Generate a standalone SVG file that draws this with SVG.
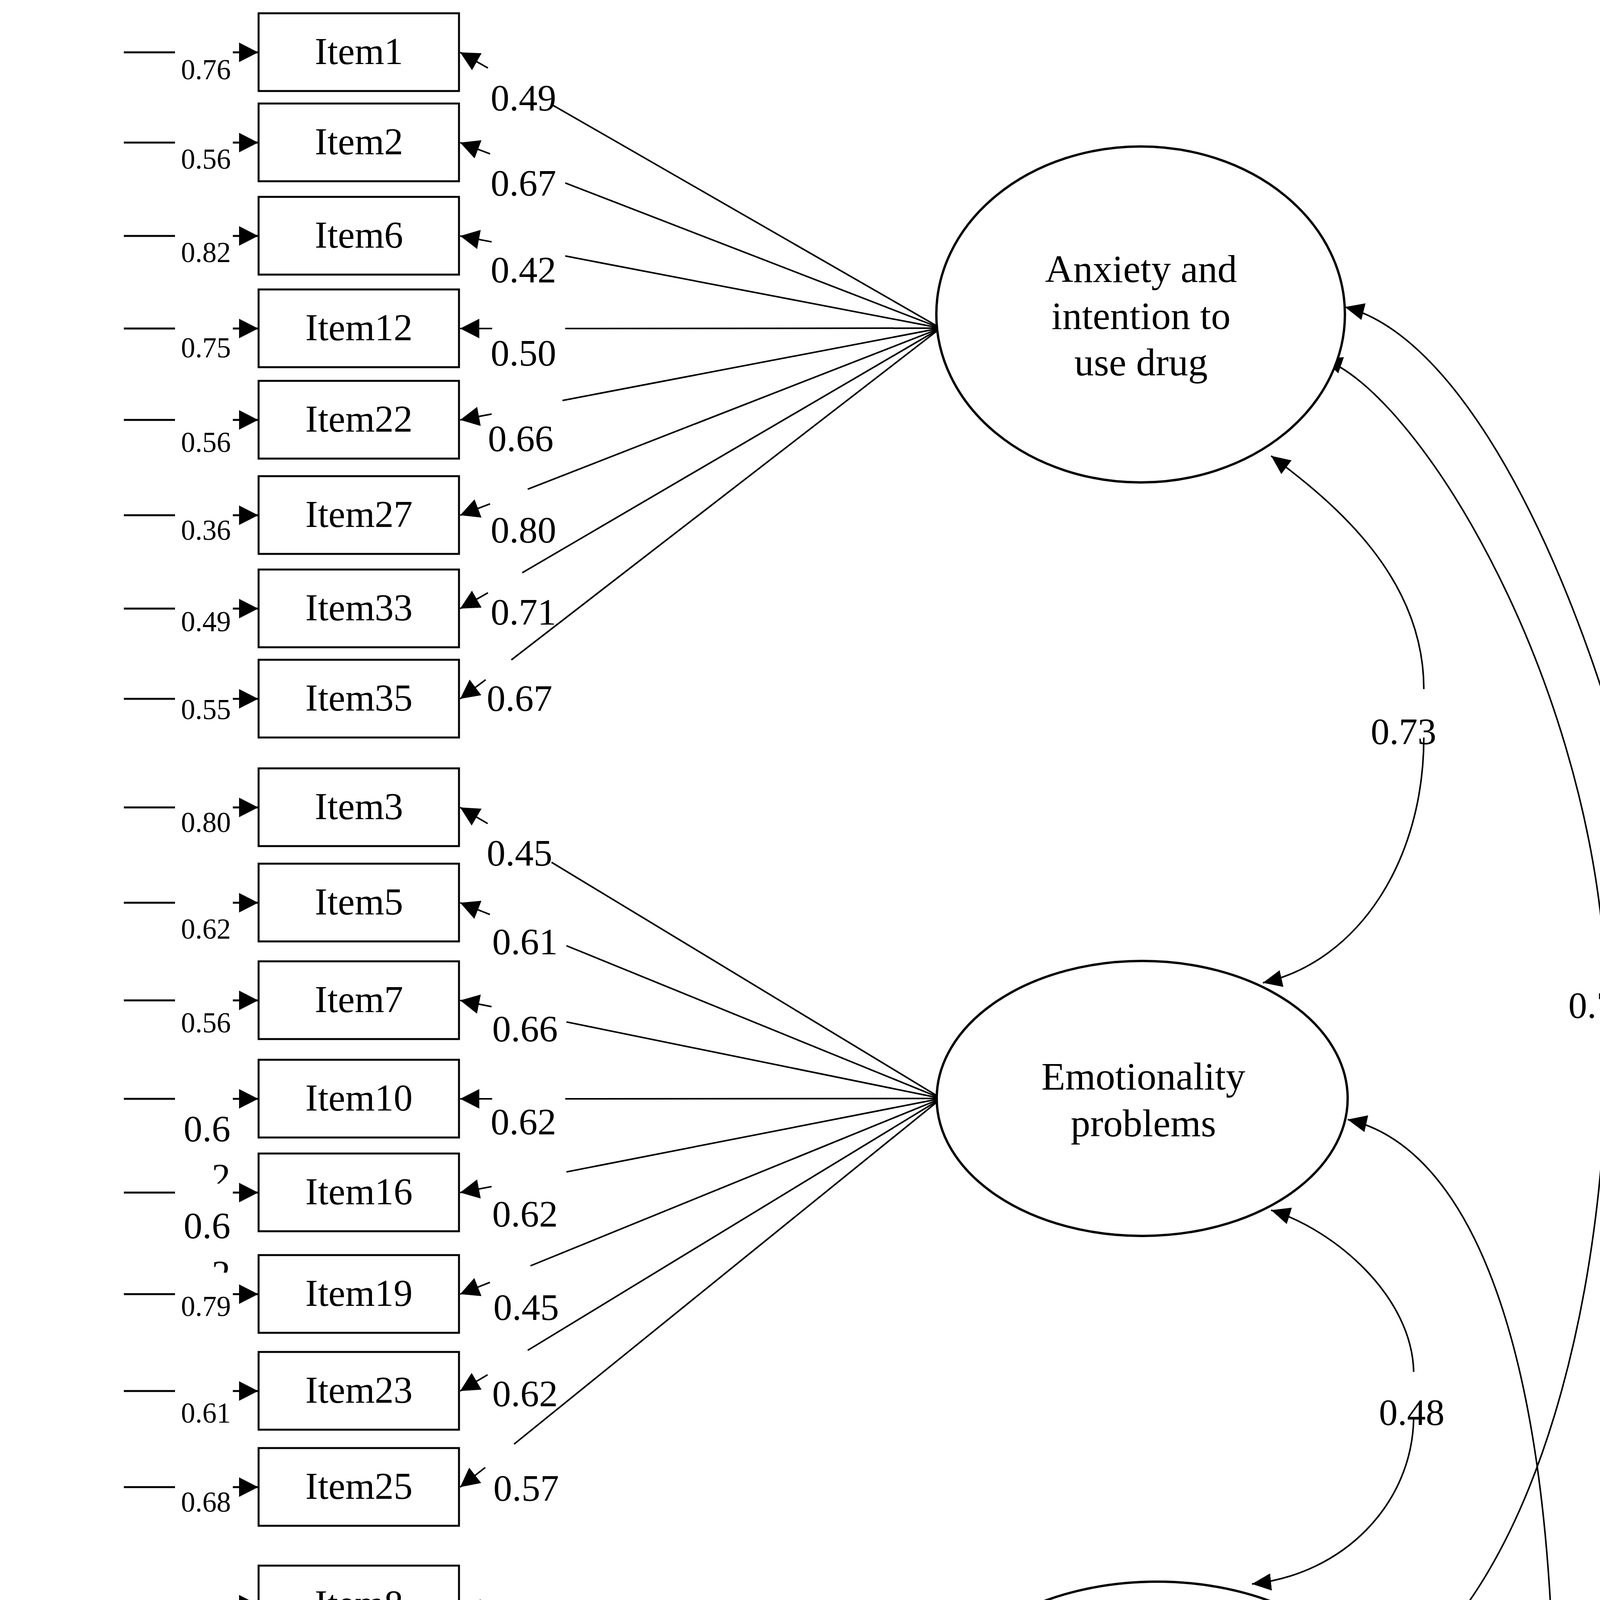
<svg xmlns="http://www.w3.org/2000/svg" width="4501" height="6987" viewBox="0 0 4501 6987">
<style>
.bg{fill:#fff}
.box{fill:#fff;stroke:#000;stroke-width:5}
.lat{fill:#fff;stroke:#000;stroke-width:6}
.ln{stroke:#000;stroke-width:4;fill:none}
.el{stroke:#000;stroke-width:5;fill:none}
.cv{stroke:#000;stroke-width:4;fill:none}
text{font-family:"Liberation Serif","Times New Roman",serif;fill:#000}
.it{font-size:97px;text-anchor:middle}
.lt{font-size:100px;text-anchor:middle}
.lb{font-size:96px}
.ev{font-size:73px;text-anchor:end}
.cap{font-size:99px}
</style>
<defs>
<marker id="ah" markerUnits="userSpaceOnUse" markerWidth="50" markerHeight="50" refX="49" refY="25" orient="auto-start-reverse" viewBox="0 0 50 50">
<path d="M0,0 L49,25 L0,50 z" fill="#000"/>
</marker>
<marker id="ac" markerUnits="userSpaceOnUse" markerWidth="50" markerHeight="44" refX="49" refY="22" orient="auto-start-reverse" viewBox="0 0 50 44">
<path d="M0,0 L49,22 L0,44 z" fill="#000"/>
</marker>
<clipPath id="c10"><rect x="500" y="2940" width="150" height="90"/></clipPath>
<clipPath id="c16"><rect x="500" y="3190" width="150" height="68"/></clipPath>
</defs>
<rect class="bg" x="0" y="0" width="4501" height="6987"/>
<g id="connectors">
<g id="errors">
<path class="el" d="M317,134H448 M596,134H661" marker-end="url(#ah)"/>
<path class="el" d="M317,365H448 M596,365H661" marker-end="url(#ah)"/>
<path class="el" d="M317,604H448 M596,604H661" marker-end="url(#ah)"/>
<path class="el" d="M317,841H448 M596,841H661" marker-end="url(#ah)"/>
<path class="el" d="M317,1075H448 M596,1075H661" marker-end="url(#ah)"/>
<path class="el" d="M317,1319H448 M596,1319H661" marker-end="url(#ah)"/>
<path class="el" d="M317,1558H448 M596,1558H661" marker-end="url(#ah)"/>
<path class="el" d="M317,1789H448 M596,1789H661" marker-end="url(#ah)"/>
<path class="el" d="M317,2067H448 M596,2067H661" marker-end="url(#ah)"/>
<path class="el" d="M317,2311H448 M596,2311H661" marker-end="url(#ah)"/>
<path class="el" d="M317,2561H448 M596,2561H661" marker-end="url(#ah)"/>
<path class="el" d="M317,2813H448 M596,2813H661" marker-end="url(#ah)"/>
<path class="el" d="M317,3053H448 M596,3053H661" marker-end="url(#ah)"/>
<path class="el" d="M317,3313H448 M596,3313H661" marker-end="url(#ah)"/>
<path class="el" d="M317,3561H448 M596,3561H661" marker-end="url(#ah)"/>
<path class="el" d="M317,3807H448 M596,3807H661" marker-end="url(#ah)"/>
<path class="el" d="M317,4108H448 M596,4108H661" marker-end="url(#ah)"/>
<path class="el" d="M317,4353H448 M596,4353H661" marker-end="url(#ah)"/>
<path class="el" d="M317,4602H448 M596,4602H661" marker-end="url(#ah)"/>
<path class="el" d="M317,4854H448 M596,4854H661" marker-end="url(#ah)"/>
<path class="el" d="M317,5138H448 M596,5138H661" marker-end="url(#ah)"/>
<path class="el" d="M317,5382H448 M596,5382H661" marker-end="url(#ah)"/>
<path class="el" d="M317,5634H448 M596,5634H661" marker-end="url(#ah)"/>
<path class="el" d="M317,5885H448 M596,5885H661" marker-end="url(#ah)"/>
<path class="el" d="M317,6127H448 M596,6127H661" marker-end="url(#ah)"/>
<path class="el" d="M317,6386H448 M596,6386H661" marker-end="url(#ah)"/>
</g>
<g id="error-labels">
<text class="ev" x="591" y="203">0.76</text>
<text class="ev" x="591" y="432">0.56</text>
<text class="ev" x="591" y="671">0.82</text>
<text class="ev" x="591" y="915">0.75</text>
<text class="ev" x="591" y="1157">0.56</text>
<text class="ev" x="591" y="1382">0.36</text>
<text class="ev" x="591" y="1616">0.49</text>
<text class="ev" x="591" y="1841">0.55</text>
<text class="ev" x="591" y="2130">0.80</text>
<text class="ev" x="591" y="2403">0.62</text>
<text class="ev" x="591" y="2643">0.56</text>
<text class="lb" x="590" y="2922" text-anchor="end">0.6</text>
<text class="lb" x="590" y="3045" text-anchor="end" clip-path="url(#c10)">2</text>
<text class="lb" x="590" y="3170" text-anchor="end">0.6</text>
<text class="lb" x="590" y="3293" text-anchor="end" clip-path="url(#c16)">2</text>
<text class="ev" x="591" y="3369">0.79</text>
<text class="ev" x="591" y="3642">0.61</text>
<text class="ev" x="591" y="3870">0.68</text>
<text class="ev" x="591" y="4167">0.81</text>
<text class="ev" x="591" y="4445">0.60</text>
<text class="ev" x="591" y="4706">0.20</text>
<text class="ev" x="591" y="4926">0.18</text>
<text class="ev" x="591" y="5211">0.52</text>
<text class="ev" x="591" y="5473">0.52</text>
<text class="ev" x="591" y="5726">0.41</text>
<text class="ev" x="591" y="5964">0.34</text>
<text class="ev" x="591" y="6224">0.40</text>
<text class="ev" x="591" y="6460">0.60</text>
</g>
<g id="loadings">
<path class="ln" d="M2408,840L1412,267.4"/><path class="ln" d="M1249,174L1178,134" marker-end="url(#ah)"/>
<path class="ln" d="M2408,840L1447,468.3"/><path class="ln" d="M1254.6,393.9L1178,365" marker-end="url(#ah)"/>
<path class="ln" d="M2408,840L1447,655.3"/><path class="ln" d="M1258.6,619.1L1178,604" marker-end="url(#ah)"/>
<path class="ln" d="M2408,840L1447,841"/><path class="ln" d="M1260,841L1178,841" marker-end="url(#ah)"/>
<path class="ln" d="M2408,840L1440,1025.2"/><path class="ln" d="M1258.6,1060L1178,1075" marker-end="url(#ah)"/>
<path class="ln" d="M2408,840L1351,1252.3"/><path class="ln" d="M1254.5,1289.9L1178,1319" marker-end="url(#ah)"/>
<path class="ln" d="M2408,840L1337,1466.2"/><path class="ln" d="M1249.1,1517.6L1178,1558" marker-end="url(#ah)"/>
<path class="ln" d="M2408,840L1309,1689.3"/><path class="ln" d="M1243.3,1740.1L1178,1789" marker-end="url(#ah)"/>
<path class="ln" d="M2410,2812L1412,2207.5"/><path class="ln" d="M1248.4,2108.4L1178,2067" marker-end="url(#ah)"/>
<path class="ln" d="M2410,2812L1450,2421"/><path class="ln" d="M1254.1,2341.2L1178,2311" marker-end="url(#ah)"/>
<path class="ln" d="M2410,2812L1450,2616.1"/><path class="ln" d="M1258.4,2577L1178,2561" marker-end="url(#ah)"/>
<path class="ln" d="M2410,2812L1447,2813"/><path class="ln" d="M1260,2813L1178,2813" marker-end="url(#ah)"/>
<path class="ln" d="M2410,2812L1450,3000.1"/><path class="ln" d="M1258.5,3037.6L1178,3053" marker-end="url(#ah)"/>
<path class="ln" d="M2410,2812L1358,3240.5"/><path class="ln" d="M1254.1,3282.8L1178,3313" marker-end="url(#ah)"/>
<path class="ln" d="M2410,2812L1351,3456.9"/><path class="ln" d="M1248.3,3519.4L1178,3561" marker-end="url(#ah)"/>
<path class="ln" d="M2410,2812L1316,3697"/><path class="ln" d="M1242.2,3756.7L1178,3807" marker-end="url(#ah)"/>
<path class="ln" d="M2402,4395L1447,4170.7"/><path class="ln" d="M1257.9,4126.3L1178,4108" marker-end="url(#ah)"/>
<path class="ln" d="M2402,4395L1454,4362.4"/><path class="ln" d="M1260,4355.8L1178,4353" marker-end="url(#ah)"/>
<path class="ln" d="M2402,4395L1454,4555.6"/><path class="ln" d="M1258.9,4588.6L1178,4602" marker-end="url(#ah)"/>
<path class="ln" d="M2402,4395L1400,4771.4"/><path class="ln" d="M1254.9,4825.9L1178,4854" marker-end="url(#ah)"/>
<path class="ln" d="M2405,5884L1389,5265.3"/><path class="ln" d="M1248.3,5179.6L1178,5138" marker-end="url(#ah)"/>
<path class="ln" d="M2405,5884L1435,5486.5"/><path class="ln" d="M1254,5412.3L1178,5382" marker-end="url(#ah)"/>
<path class="ln" d="M2405,5884L1447,5688.5"/><path class="ln" d="M1258.4,5650L1178,5634" marker-end="url(#ah)"/>
<path class="ln" d="M2405,5884L1454,5885"/><path class="ln" d="M1260,5885L1178,5885" marker-end="url(#ah)"/>
<path class="ln" d="M2405,5884L1454,6072.6"/><path class="ln" d="M1258.5,6111.4L1178,6127" marker-end="url(#ah)"/>
<path class="ln" d="M2405,5884L1372,6307.3"/><path class="ln" d="M1254,6355.7L1178,6386" marker-end="url(#ah)"/>
</g>
<g id="loading-labels">
<text class="lb" x="1256" y="283">0.49</text>
<text class="lb" x="1256" y="501">0.67</text>
<text class="lb" x="1256" y="723">0.42</text>
<text class="lb" x="1256" y="936">0.50</text>
<text class="lb" x="1249" y="1155">0.66</text>
<text class="lb" x="1256" y="1389">0.80</text>
<text class="lb" x="1256" y="1599">0.71</text>
<text class="lb" x="1246" y="1820">0.67</text>
<text class="lb" x="1246" y="2216">0.45</text>
<text class="lb" x="1260" y="2443">0.61</text>
<text class="lb" x="1260" y="2666">0.66</text>
<text class="lb" x="1256" y="2904">0.62</text>
<text class="lb" x="1260" y="3140">0.62</text>
<text class="lb" x="1263" y="3379">0.45</text>
<text class="lb" x="1260" y="3600">0.62</text>
<text class="lb" x="1263" y="3842">0.57</text>
<text class="lb" x="1256" y="4209">0.43</text>
<text class="lb" x="1260" y="4435">0.63</text>
<text class="lb" x="1263" y="4688">0.90</text>
<text class="lb" x="1256" y="4915">0.69</text>
<text class="lb" x="1260" y="5284">0.69</text>
<text class="lb" x="1249" y="5518">0.69</text>
<text class="lb" x="1256" y="5754">0.76</text>
<text class="lb" x="1263" y="5964">0.81</text>
<text class="lb" x="1260" y="6200">0.77</text>
<text class="lb" x="1263" y="6439">0.63</text>
</g>
<g id="correlations">
<path class="cv" d="M3254,1167 C3420,1290 3645,1480 3645,1764" marker-start="url(#ac)"/>
<path class="cv" d="M3645,1888 C3645,2200 3480,2460 3233,2516" marker-end="url(#ac)"/>
<path class="cv" d="M3254,3098 C3420,3150 3615,3320 3619,3512" marker-start="url(#ac)"/>
<path class="cv" d="M3619,3631 C3615,3850 3440,4030 3205,4055" marker-end="url(#ac)"/>
<path class="cv" d="M3305,4711 C3450,4730 3610,4840 3660,4963" marker-start="url(#ac)"/>
<path class="cv" d="M3673,5086 C3650,5250 3480,5380 3257,5407" marker-end="url(#ac)"/>
<path class="cv" d="M3387,919 C3620,1000 4060,1700 4109,2466" marker-start="url(#ac)"/>
<path class="cv" d="M4113,2593 C4125,3250 3950,4100 3495,4352" marker-end="url(#ac)"/>
<path class="cv" d="M3450,2866 C3780,2940 4000,3500 3977,4610" marker-start="url(#ac)"/>
<path class="cv" d="M3956,4751 C3935,5100 3760,5560 3476,5712" marker-end="url(#ac)"/>
<path class="cv" d="M3443,786 C3900,900 4370,2200 4374,3512" marker-start="url(#ac)"/>
<path class="cv" d="M4369,3631 C4370,4600 4050,5800 3507,6070" marker-end="url(#ac)"/>
<text class="lb" x="3509" y="1905">0.73</text>
<text class="lb" x="3530" y="3648">0.48</text>
<text class="lb" x="3582" y="5102">0.56</text>
<text class="lb" x="4015" y="2606">0.71</text>
<text class="lb" x="3921" y="4752">0.76</text>
<text class="lb" x="4289" y="3648">0.94</text>
</g>
</g>
<g id="Item1"><rect class="box" x="662" y="34" width="513" height="199"/><text class="it" x="919" y="164">Item1</text></g>
<g id="Item2"><rect class="box" x="662" y="265" width="513" height="199"/><text class="it" x="919" y="395">Item2</text></g>
<g id="Item6"><rect class="box" x="662" y="504" width="513" height="199"/><text class="it" x="919" y="634">Item6</text></g>
<g id="Item12"><rect class="box" x="662" y="741" width="513" height="199"/><text class="it" x="919" y="871">Item12</text></g>
<g id="Item22"><rect class="box" x="662" y="975" width="513" height="199"/><text class="it" x="919" y="1105">Item22</text></g>
<g id="Item27"><rect class="box" x="662" y="1219" width="513" height="199"/><text class="it" x="919" y="1349">Item27</text></g>
<g id="Item33"><rect class="box" x="662" y="1458" width="513" height="199"/><text class="it" x="919" y="1588">Item33</text></g>
<g id="Item35"><rect class="box" x="662" y="1689" width="513" height="199"/><text class="it" x="919" y="1819">Item35</text></g>
<g id="Item3"><rect class="box" x="662" y="1967" width="513" height="199"/><text class="it" x="919" y="2097">Item3</text></g>
<g id="Item5"><rect class="box" x="662" y="2211" width="513" height="199"/><text class="it" x="919" y="2341">Item5</text></g>
<g id="Item7"><rect class="box" x="662" y="2461" width="513" height="199"/><text class="it" x="919" y="2591">Item7</text></g>
<g id="Item10"><rect class="box" x="662" y="2713" width="513" height="199"/><text class="it" x="919" y="2843">Item10</text></g>
<g id="Item16"><rect class="box" x="662" y="2953" width="513" height="199"/><text class="it" x="919" y="3083">Item16</text></g>
<g id="Item19"><rect class="box" x="662" y="3213" width="513" height="199"/><text class="it" x="919" y="3343">Item19</text></g>
<g id="Item23"><rect class="box" x="662" y="3461" width="513" height="199"/><text class="it" x="919" y="3591">Item23</text></g>
<g id="Item25"><rect class="box" x="662" y="3707" width="513" height="199"/><text class="it" x="919" y="3837">Item25</text></g>
<g id="Item8"><rect class="box" x="662" y="4008" width="513" height="199"/><text class="it" x="919" y="4138">Item8</text></g>
<g id="Item28"><rect class="box" x="662" y="4253" width="513" height="199"/><text class="it" x="919" y="4383">Item28</text></g>
<g id="Item31"><rect class="box" x="662" y="4502" width="513" height="199"/><text class="it" x="919" y="4632">Item31</text></g>
<g id="Item34"><rect class="box" x="662" y="4754" width="513" height="199"/><text class="it" x="919" y="4884">Item34</text></g>
<g id="Item18"><rect class="box" x="662" y="5038" width="513" height="199"/><text class="it" x="919" y="5168">Item18</text></g>
<g id="Item20"><rect class="box" x="662" y="5282" width="513" height="199"/><text class="it" x="919" y="5412">Item20</text></g>
<g id="Item24"><rect class="box" x="662" y="5534" width="513" height="199"/><text class="it" x="919" y="5664">Item24</text></g>
<g id="Item29"><rect class="box" x="662" y="5785" width="513" height="199"/><text class="it" x="919" y="5915">Item29</text></g>
<g id="Item30"><rect class="box" x="662" y="6027" width="513" height="199"/><text class="it" x="919" y="6157">Item30</text></g>
<g id="Item32"><rect class="box" x="662" y="6286" width="513" height="199"/><text class="it" x="919" y="6416">Item32</text></g>
<g id="anxiety"><ellipse class="lat" cx="2920" cy="805" rx="523" ry="430"/>
<text class="lt" x="2921" y="722">Anxiety and</text><text class="lt" x="2921" y="842">intention to</text><text class="lt" x="2921" y="961">use drug</text></g>
<g id="emotionality"><ellipse class="lat" cx="2924" cy="2812" rx="526" ry="352"/>
<text class="lt" x="2927" y="2789">Emotionality</text><text class="lt" x="2927" y="2909">problems</text></g>
<g id="compulsivity"><ellipse class="lat" cx="2962" cy="4400" rx="563" ry="351"/>
<text class="lt" x="2963" y="4381">Compulsivity</text><text class="lt" x="2963" y="4501">for drug</text></g>
<g id="positive"><ellipse class="lat" cx="2965" cy="5898" rx="567" ry="488"/>
<text class="lt" x="2967" y="5757">Positive</text><text class="lt" x="2967" y="5876">expectancies</text><text class="lt" x="2967" y="5997">and lack of</text><text class="lt" x="2967" y="6116">control</text></g>
<g id="caption">
<text class="cap" x="371" y="6655">Supplementary Figure 1. Structural model with factor loading, error variance, and correlations.</text>
<text class="cap" x="371" y="6773">Single-headed arrows indicate factor loading and error variance. Double-headed arrows display</text>
<text class="cap" x="371" y="6891">correlation. Factor loading and correlation are presented as standardized estimates.</text>
</g>
</svg>
